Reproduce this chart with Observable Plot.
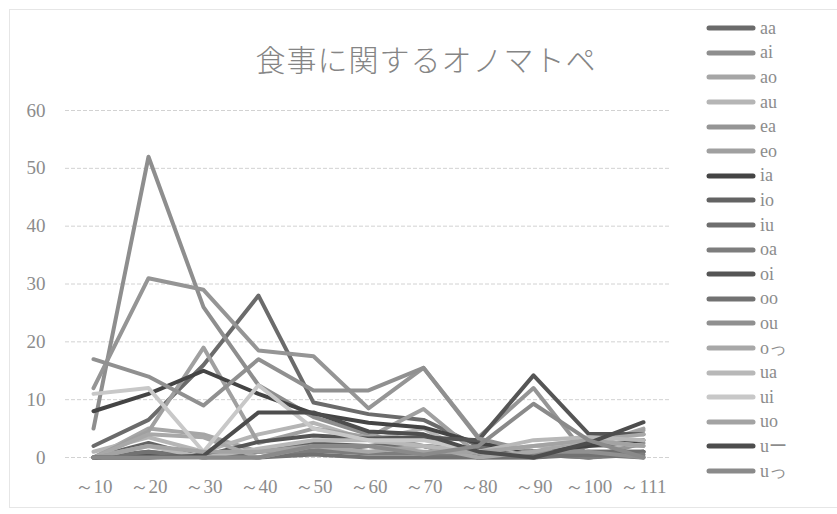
<!DOCTYPE html>
<html><head><meta charset="utf-8">
<script src="https://cdn.jsdelivr.net/npm/d3@7"></script>
<script src="https://cdn.jsdelivr.net/npm/@observablehq/plot@0.6"></script>
<style>
body{margin:0;background:#fff;}
#wrap{position:relative;width:837px;height:514px;overflow:hidden;font-family:"Liberation Serif",serif;}
#frame{position:absolute;left:9px;top:9px;width:840px;height:497px;border:1px solid #e6e6e6;border-right:none;}
#title{position:absolute;left:0;width:852px;top:36px;text-align:center;font-family:"Noto Sans CJK JP";font-weight:300;font-size:30px;color:#858585;letter-spacing:1px;}
#plot{position:absolute;left:0;top:0;}
#legend{position:absolute;left:706px;top:16px;}
.item{height:24.6px;display:flex;align-items:center;font-size:18px;color:#8c8c8c;}
.item svg{margin-right:4px;}
</style></head>
<body><div id="wrap"><div id="frame"></div><div id="plot"></div><div id="title">食事に関するオノマトペ</div><div id="legend"></div></div>
<script>
const categories = ["～10","～20","～30","～40","～50","～60","～70","～80","～90","～100","～111"];
const seriesNames = ["aa","ai","ao","au","ea","eo","ia","io","iu","oa","oi","oo","ou","oっ","ua","ui","uo","uー","uっ"];
const yTicks = [0,10,20,30,40,50,60];

const aa = [2, 6.5, 16, 28, 9.5, 7.5, 6.5, 2, 1, 0, 1];
const ai = [5, 52, 26, 12.5, 7, 4, 2, 0, 0.5, 0, 1];
const ao = [0, 5, 4, 1, 1, 2, 3.5, 0, 0, 2, 5];
const au = [1, 3.5, 1, 4, 6, 3, 5, 0, 2, 2, 2];
const ea = [12, 31, 29, 18.5, 17.5, 8.5, 15.5, 3.5, 12, 0, 2.5];
const eo = [0, 4.5, 19, 2.5, 5, 3.5, 8.4, 0.5, 0, 2, 4.7];
const ia = [8, 11, 15, 11, 7.6, 6, 5.2, 2.5, 1, 2, 3];
const io = [0, 2.5, 0, 1, 2.4, 2, 2, 0, 1, 1, 1];
const iu = [0, 1, 0, 1.3, 1.2, 2, 2, 1.5, 0, 1, 1];
const oa = [0, 0, 0.5, 0, 1.2, 0.7, 0.7, 0, 0.5, 0, 0.5];
const oi = [0, 0.5, 0.3, 2.7, 3.8, 3.3, 3.5, 3, 14.2, 4.1, 4];
const oo = [0, 1, 0, 0, 0.5, 0, 0, 0, 0, 0.5, 0];
const ou = [17, 14, 9, 17, 11.6, 11.6, 15.5, 3.3, 1, 1, 0];
const o_tsu = [0, 4, 3.5, 0, 2, 1, 2, 0, 1, 3, 4];
const ua = [0, 2, 0, 1.5, 3, 3, 2, 1, 3, 3.5, 3];
const ui = [11, 12, 1, 12.5, 5, 3, 3, 1, 2, 3, 2];
const uo = [0, 2, 1, 1, 2, 2, 1, 1, 2, 3, 2];
const u_long = [0, 0, 0.3, 7.8, 7.8, 4.5, 4, 1, 0, 2.5, 6.1];
const u_tsu = [0, 0, 0, 0, 2, 2, 0.5, 2, 9.3, 3, 0];

const seriesColors = ["#6b6b6b","#8e8e8e","#a6a6a6","#b5b5b5","#959595","#a0a0a0","#444444","#636363","#6e6e6e","#7d7d7d","#555555","#727272","#909090","#a8a8a8","#b8b8b8","#c8c8c8","#a3a3a3","#4d4d4d","#8a8a8a"];

const seriesValues = [aa, ai, ao, au, ea, eo, ia, io, iu, oa, oi, oo, ou, o_tsu, ua, ui, uo, u_long, u_tsu];
const data = [];
seriesNames.forEach((s, i) => seriesValues[i].forEach((v, j) => data.push({series: s, cat: categories[j], value: v})));

const chart = Plot.plot({
  width: 700, height: 514,
  marginTop: 110, marginBottom: 57, marginLeft: 65, marginRight: 30,
  x: {type: "point", domain: categories, padding: 0.5, label: null},
  y: {domain: [0, 60], label: null},
  color: {domain: seriesNames, range: seriesColors},
  style: {fontFamily: "'Liberation Serif', serif", fontSize: "19px", color: "#8c8c8c", background: "transparent"},
  marks: [
    Plot.gridY(yTicks, {stroke: "#d2d2d2", strokeOpacity: 1, strokeDasharray: "4,2", strokeWidth: 1}),
    Plot.axisY(yTicks, {tickSize: 0, tickPadding: 20, label: null}),
    Plot.axisX({tickSize: 0, tickPadding: 22, label: null}),
    Plot.line(data, {x: "cat", y: "value", z: "series", stroke: "series", strokeWidth: 4, strokeLinejoin: "round", strokeLinecap: "round"})
  ]
});
document.getElementById("plot").appendChild(chart);

const legend = d3.select("#legend");
seriesNames.forEach((s, i) => {
  const row = legend.append("div").attr("class", "item");
  const sv = row.append("svg").attr("width", 50).attr("height", 8);
  sv.append("line").attr("x1", 3).attr("x2", 47).attr("y1", 4).attr("y2", 4)
    .attr("stroke", seriesColors[i]).attr("stroke-width", 5).attr("stroke-linecap", "round");
  row.append("span").text(s);
});
</script></body></html>
